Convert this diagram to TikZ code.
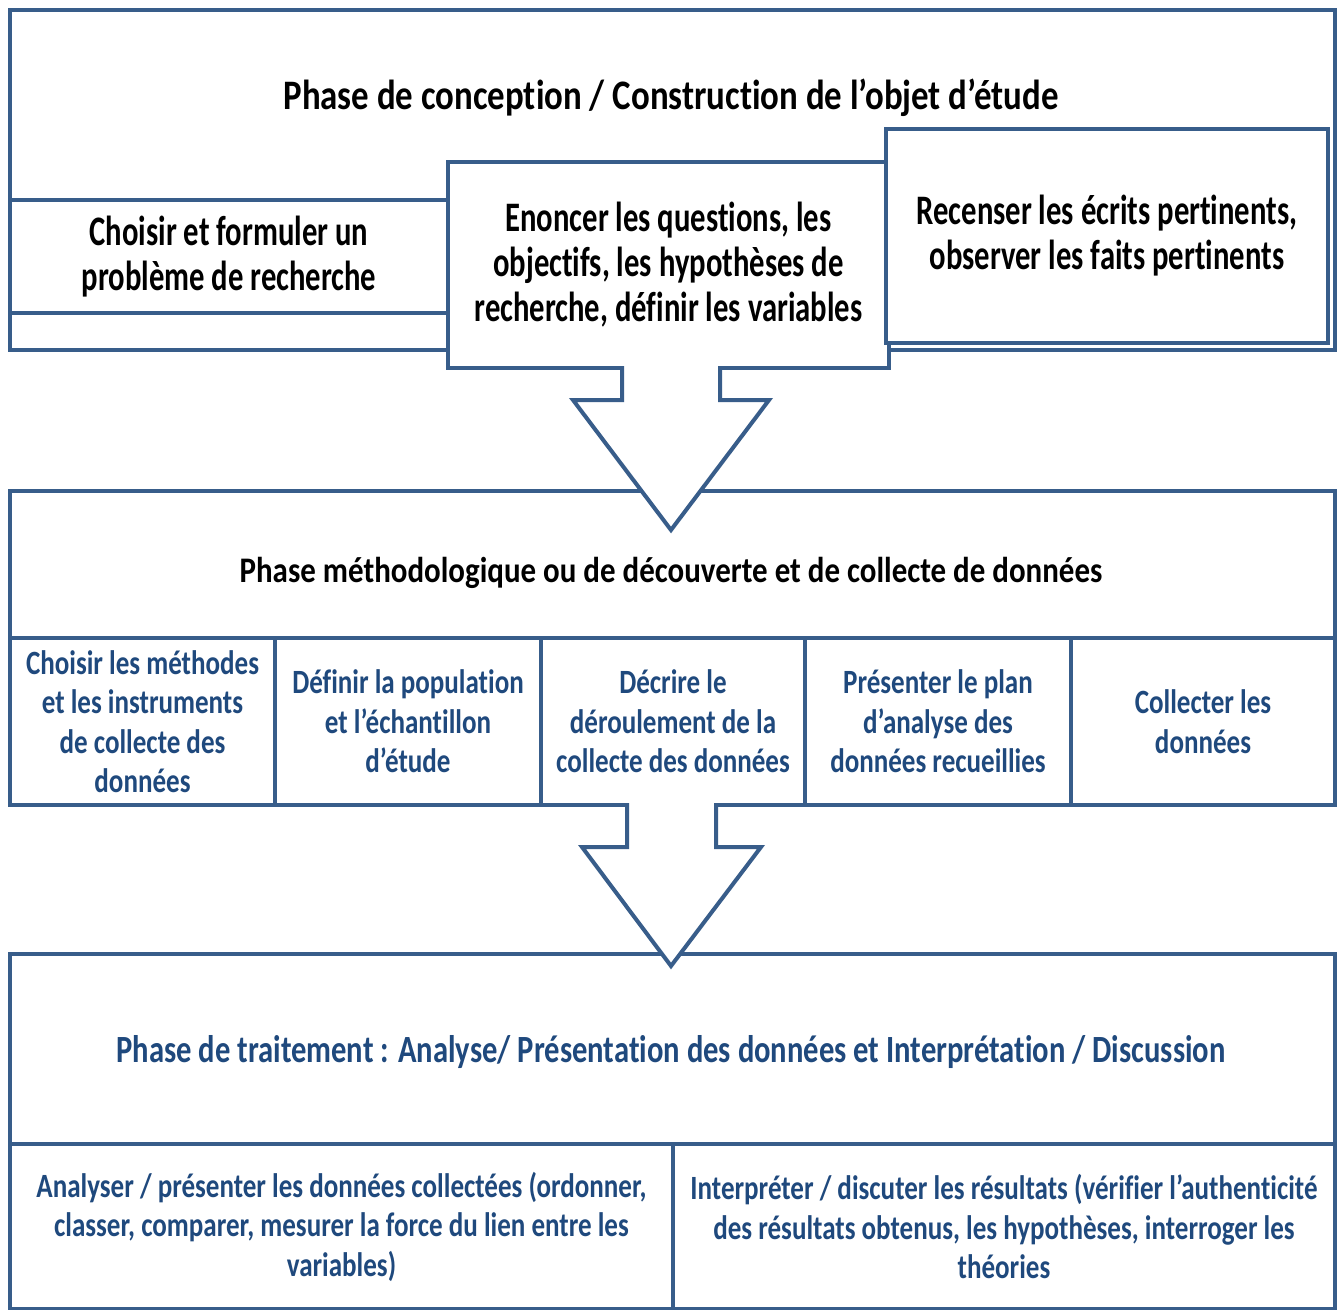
\documentclass[tikz,border=0pt]{standalone}
\usepackage{fontspec}
\setmainfont{Carlito}[FakeStretch=0.8,Ligatures=NoCommon]
\newfontfamily\fTitleA{Carlito}[FakeStretch=0.83,Ligatures=NoCommon]
\newfontfamily\fBoxA{Carlito}[FakeStretch=0.73,Ligatures=NoCommon]
\newfontfamily\fTitleB{Carlito}[FakeStretch=0.86,Ligatures=NoCommon]
\newfontfamily\fCell{Carlito}[FakeStretch=0.795,Ligatures=NoCommon]
\definecolor{ln}{RGB}{56,93,138}
\definecolor{tx}{RGB}{31,73,125}
\begin{document}
\begin{tikzpicture}[x=1pt,y=-1pt,
  box/.style={draw=ln, line width=4pt, fill=white, inner sep=0pt, anchor=north west},
  big/.style={font=\fBoxA\bfseries\fontsize{42}{45}\selectfont, align=center, text=black},
  cell/.style={font=\fCell\bfseries\fontsize{34}{39.5}\selectfont, align=center, text=tx},
  blockarrow/.style={draw=ln, line width=4pt, fill=white, line join=miter}]
\useasboundingbox (0,0) rectangle (1338,1309);
% ---------- phase 1
\node[box, minimum width=1325pt, minimum height=340pt] (p1) at (8,8) {};
\node[big, font=\fTitleA\bfseries\fontsize{42}{45}\selectfont, inner sep=0pt] (t1) at (671,98) {Phase de conception / Construction de l’objet d’étude};
\node[box, big, minimum width=438pt, minimum height=113pt] (a1) at (8,198) {Choisir et formuler un\\problème de recherche};
\node[box, big, minimum width=441pt, minimum height=206pt] (a2) at (446,160) {Enoncer les questions, les\\objectifs, les hypothèses de\\recherche, définir les variables};
\node[box, big, minimum width=442pt, minimum height=214pt] (a3) at (884,127) {Recenser les écrits pertinents,\\observer les faits pertinents};
% ---------- phase 2
\node[box, minimum width=1325pt, minimum height=314pt] (p2) at (8,489) {};
\node[big, font=\fTitleB\bfseries\fontsize{36}{40}\selectfont, inner sep=0pt] (t2) at (671,573) {Phase méthodologique ou de découverte et de collecte de données};
\node[box, cell, minimum width=265pt, minimum height=167pt] (b1) at (8,636) {Choisir les méthodes\\et les instruments\\de collecte des\\données};
\node[box, cell, minimum width=266pt, minimum height=167pt] (b2) at (273,636) {Définir la population\\et l’échantillon\\d’étude};
\node[box, cell, minimum width=264pt, minimum height=167pt] (b3) at (539,636) {Décrire le\\déroulement de la\\collecte des données};
\node[box, cell, minimum width=266pt, minimum height=167pt] (b4) at (803,636) {Présenter le plan\\d’analyse des\\données recueillies};
\node[box, cell, minimum width=264pt, minimum height=167pt] (b5) at (1069,636) {Collecter les\\données};
% arrow 1
\draw[blockarrow] (622,366) -- (622,400) -- (573,400) -- (671,530) -- (769,400) -- (720,400) -- (720,366);
% ---------- phase 3
\node[box, minimum width=1325pt, minimum height=355pt] (p3) at (8,952) {};
\node[cell, font=\fCell\bfseries\fontsize{38.5}{40}\selectfont, inner sep=0pt] (t3) at (671,1052) {Phase de traitement : Analyse/ Présentation des données et Interprétation / Discussion};
\node[box, cell, minimum width=663pt, minimum height=165pt] (c1) at (8,1142) {Analyser / présenter les données collectées (ordonner,\\classer, comparer, mesurer la force du lien entre les\\variables)};
\node[box, cell, minimum width=662pt, minimum height=165pt] (c2) at (671,1142) {Interpréter / discuter les résultats (vérifier l’authenticité\\des résultats obtenus, les hypothèses, interroger les\\théories};
% arrow 2
\draw[blockarrow] (627,803) -- (627,847) -- (582,847) -- (671,966) -- (761,847) -- (716,847) -- (716,803);
\end{tikzpicture}
\end{document}
